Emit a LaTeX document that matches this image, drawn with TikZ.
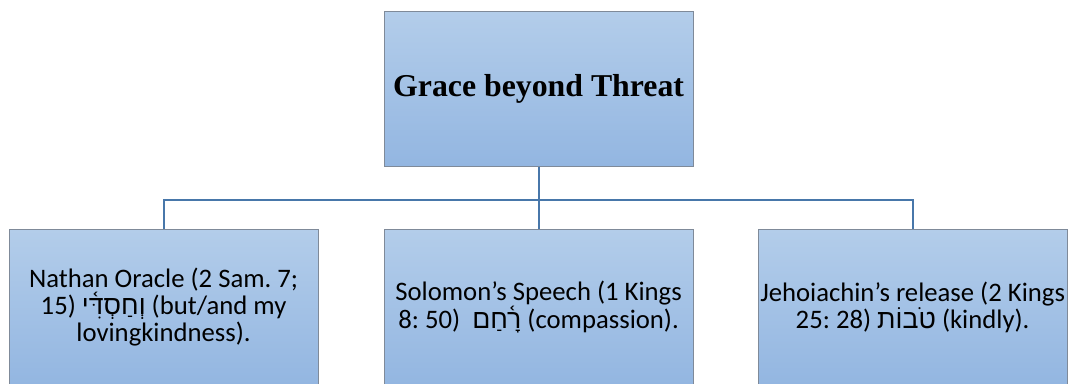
\documentclass[tikz,border=0pt]{standalone}
\usepackage{fontspec}
\usetikzlibrary{calc}
\setmainfont{Carlito}
\newfontfamily\titlefont{Liberation Serif}
\newfontfamily\hebfont[Script=Hebrew]{Liberation Sans}
\TeXXeTstate=1
\frenchspacing
\definecolor{boxtop}{HTML}{B3CDEA}
\definecolor{boxbot}{HTML}{93B6E1}
\definecolor{boxline}{HTML}{7F8A99}
\definecolor{linkc}{HTML}{4877AA}
\tikzset{
  gbox/.style={draw=boxline, line width=1.2pt, top color=boxtop, bottom color=boxbot,
    minimum width=309pt, minimum height=155pt, inner sep=0pt, align=center, anchor=north west},
  leafbox/.style={gbox, font=\frenchspacing\fontsize{26.7}{27.4}\selectfont},
  link/.style={draw=linkc, line width=2pt}
}
\begin{document}
\begin{tikzpicture}[x=1pt,y=-1pt]
\useasboundingbox (0,0) rectangle (1068,383);
\clip (0,0) rectangle (1068,383);
\fill[white] (0,0) rectangle (1068,383);
\node[gbox, font=\titlefont\bfseries\fontsize{31.8}{36}\selectfont] (top) at (383.5,10.5) {Grace beyond Threat};
\node[leafbox] (a) at (8.5,229) {Nathan Oracle (2 Sam. 7;\\15) {\hebfont\beginR וְחַסְדִּ֫י\endR} (but/and my\\lovingkindness).};
\node[leafbox] (b) at (383.5,229) {Solomon’s Speech (1 Kings\\8: 50)\ \ {\hebfont\beginR רָ֫חַם\endR} (compassion).};
\node[leafbox] (c) at (757.5,229) {Jehoiachin’s release (2 Kings\\25: 28) {\hebfont\beginR טֹבוֹת\endR} (kindly).};
\coordinate (j) at ($(top.south)+(0,33)$);
\draw[link] (top.south) -- (j);
\draw[link] (j) -| (a.north);
\draw[link] (j) -- (b.north);
\draw[link] (j) -| (c.north);
\end{tikzpicture}
\end{document}
